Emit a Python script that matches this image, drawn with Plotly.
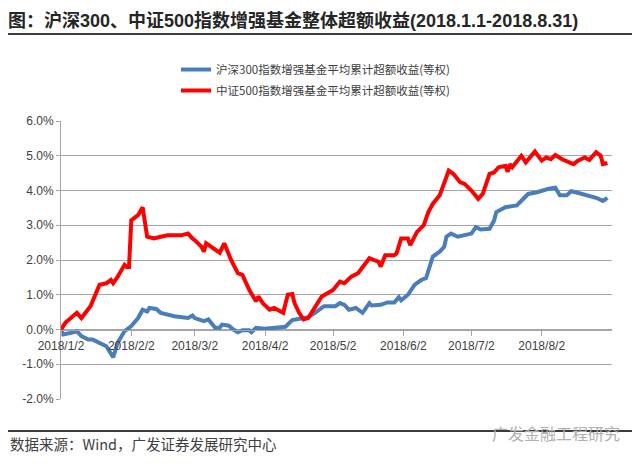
import plotly.graph_objects as go

# 沪深300指数增强基金平均累计超额收益(等权), %
hs300_dates = [
    "2018-01-02", "2018-01-03", "2018-01-06", "2018-01-09", "2018-01-11", "2018-01-14",
    "2018-01-16", "2018-01-19", "2018-01-22", "2018-01-25", "2018-01-27", "2018-01-30",
    "2018-02-02", "2018-02-05", "2018-02-07", "2018-02-09", "2018-02-10", "2018-02-13",
    "2018-02-15", "2018-02-21", "2018-02-27", "2018-03-01", "2018-03-02", "2018-03-06",
    "2018-03-08", "2018-03-11", "2018-03-13", "2018-03-14", "2018-03-17", "2018-03-19",
    "2018-03-21", "2018-03-23", "2018-03-26", "2018-03-27", "2018-03-29", "2018-04-02",
    "2018-04-07", "2018-04-11", "2018-04-14", "2018-04-17", "2018-04-21", "2018-04-24",
    "2018-04-28", "2018-05-03", "2018-05-05", "2018-05-07", "2018-05-09", "2018-05-12",
    "2018-05-15", "2018-05-18", "2018-05-19", "2018-05-23", "2018-05-26", "2018-05-29",
    "2018-05-31", "2018-06-01", "2018-06-04", "2018-06-07", "2018-06-10", "2018-06-12",
    "2018-06-15", "2018-06-18", "2018-06-20", "2018-06-21", "2018-06-23", "2018-06-26",
    "2018-06-28", "2018-07-02", "2018-07-04", "2018-07-06", "2018-07-10", "2018-07-12",
    "2018-07-13", "2018-07-17", "2018-07-22", "2018-07-24", "2018-07-27", "2018-07-31",
    "2018-08-05", "2018-08-08", "2018-08-10", "2018-08-13", "2018-08-15", "2018-08-17",
    "2018-08-22", "2018-08-26", "2018-08-29", "2018-08-31",
]
hs300_values = [
    0.00, -0.14, -0.10, -0.05, -0.19, -0.29,
    -0.29, -0.38, -0.48, -0.80, -0.38, -0.05,
    0.10, 0.33, 0.57, 0.52, 0.62, 0.59,
    0.48, 0.38, 0.33, 0.40, 0.33, 0.24,
    0.29, 0.05, 0.05, 0.14, 0.11, 0.00,
    -0.08, -0.02, -0.02, -0.08, 0.05, 0.02,
    0.05, 0.08, 0.27, 0.30, 0.35, 0.48,
    0.67, 0.67, 0.76, 0.71, 0.57, 0.62,
    0.48, 0.76, 0.69, 0.71, 0.78, 0.78,
    0.93, 0.84, 1.00, 1.29, 1.43, 1.48,
    2.10, 2.24, 2.38, 2.67, 2.76, 2.67,
    2.71, 2.76, 2.95, 2.88, 2.90, 3.14,
    3.38, 3.52, 3.57, 3.71, 3.90, 3.95,
    4.05, 4.08, 3.86, 3.86, 3.98, 3.95,
    3.86, 3.79, 3.70, 3.79,
]

# 中证500指数增强基金平均累计超额收益(等权), %
zz500_dates = [
    "2018-01-02", "2018-01-04", "2018-01-09", "2018-01-11", "2018-01-15", "2018-01-19",
    "2018-01-22", "2018-01-24", "2018-01-25", "2018-01-27", "2018-01-30", "2018-01-31",
    "2018-02-01", "2018-02-02", "2018-02-05", "2018-02-07", "2018-02-09", "2018-02-12",
    "2018-02-15", "2018-02-18", "2018-02-24", "2018-02-27", "2018-03-01", "2018-03-02",
    "2018-03-05", "2018-03-06", "2018-03-07", "2018-03-09", "2018-03-12", "2018-03-13",
    "2018-03-15", "2018-03-18", "2018-03-21", "2018-03-23", "2018-03-26", "2018-03-29",
    "2018-03-30", "2018-04-01", "2018-04-04", "2018-04-06", "2018-04-10", "2018-04-12",
    "2018-04-14", "2018-04-15", "2018-04-17", "2018-04-19", "2018-04-21", "2018-04-24",
    "2018-04-27", "2018-05-02", "2018-05-05", "2018-05-07", "2018-05-10", "2018-05-13",
    "2018-05-16", "2018-05-18", "2018-05-22", "2018-05-23", "2018-05-25", "2018-05-29",
    "2018-05-30", "2018-06-01", "2018-06-04", "2018-06-05", "2018-06-08", "2018-06-11",
    "2018-06-13", "2018-06-15", "2018-06-18", "2018-06-20", "2018-06-22", "2018-06-24",
    "2018-06-27", "2018-06-29", "2018-07-02", "2018-07-05", "2018-07-07", "2018-07-10",
    "2018-07-12", "2018-07-14", "2018-07-17", "2018-07-18", "2018-07-19", "2018-07-20",
    "2018-07-24", "2018-07-26", "2018-07-30", "2018-08-02", "2018-08-04", "2018-08-06",
    "2018-08-08", "2018-08-11", "2018-08-16", "2018-08-18", "2018-08-21", "2018-08-23",
    "2018-08-26", "2018-08-28", "2018-08-29", "2018-08-31",
]
zz500_values = [
    0.00, 0.20, 0.48, 0.33, 0.67, 1.29,
    1.33, 1.43, 1.33, 1.52, 1.86, 1.80,
    1.80, 3.14, 3.29, 3.52, 2.67, 2.62,
    2.67, 2.71, 2.71, 2.76, 2.62, 2.57,
    2.38, 2.24, 2.48, 2.38, 2.24, 2.21,
    2.48, 2.00, 1.62, 1.57, 1.14, 0.81,
    0.95, 0.76, 0.57, 0.62, 0.48, 1.00,
    1.02, 0.76, 0.48, 0.29, 0.33, 0.62,
    0.95, 1.14, 1.38, 1.33, 1.52, 1.62,
    1.86, 2.05, 1.95, 1.81, 2.14, 2.14,
    2.19, 2.62, 2.62, 2.43, 2.81, 3.00,
    3.38, 3.62, 3.86, 4.19, 4.57, 4.48,
    4.24, 4.19, 4.00, 3.76, 3.90, 4.48,
    4.52, 4.67, 4.71, 4.54, 4.76, 4.67,
    5.00, 4.81, 5.12, 4.86, 4.95, 4.90,
    5.02, 4.90, 4.76, 4.86, 4.95, 4.88,
    5.10, 5.00, 4.76, 4.79,
]

x_tick_vals = ["2018-01-02", "2018-02-02", "2018-03-02", "2018-04-02",
               "2018-05-02", "2018-06-02", "2018-07-02", "2018-08-02"]
x_tick_text = ["2018/1/2", "2018/2/2", "2018/3/2", "2018/4/2",
               "2018/5/2", "2018/6/2", "2018/7/2", "2018/8/2"]
y_tick_vals = [-2, -1, 0, 1, 2, 3, 4, 5, 6]
y_tick_text = [f"{v:.1f}%" for v in y_tick_vals]

W, H = 640, 463
OFF = 8  # 页面 body 默认 8px 边距，整体上移/左移补偿
ML, MT = 61 - OFF, 121 - OFF
MR, MB = W - (612 - OFF), H - (399 - OFF)
pw = W - ML - MR
ph = H - MT - MB


def py(ypx):
    """参考图中的像素 y -> paper 坐标"""
    return (H - MB - (ypx - OFF)) / ph


def px(xpx):
    return (xpx - OFF - ML) / pw


FONT = "Liberation Sans, Arial, Noto Sans CJK SC"
CJK = "Noto Sans CJK SC, Liberation Sans"

fig = go.Figure()
fig.add_trace(go.Scatter(
    x=hs300_dates, y=hs300_values, mode="lines",
    name="沪深300指数增强基金平均累计超额收益(等权)",
    line=dict(color="#4a7ebb", width=4), legendgroup="a",
))
fig.add_trace(go.Scatter(
    x=zz500_dates, y=zz500_values, mode="lines",
    name="中证500指数增强基金平均累计超额收益(等权)",
    line=dict(color="#ff0000", width=4), legendgroup="b",
))

# 标题下方与数据来源上方的分隔线
for ypx in (34, 431):
    fig.add_shape(type="line", xref="paper", yref="paper",
                  x0=-0.1, x1=1.05, y0=round(py(ypx), 3), y1=round(py(ypx), 3),
                  line=dict(color="#3c3c3c", width=2))

fig.update_layout(
    width=W, height=H,
    margin=dict(l=ML, r=MR, t=MT, b=MB, autoexpand=False),
    paper_bgcolor="white", plot_bgcolor="white",
    font=dict(family=FONT, size=12, color="#404040"),
    title=dict(
        text="<b>图：沪深300、中证500指数增强基金整体超额收益(2018.1.1-2018.8.31)</b>",
        x=0, xanchor="left", xref="container",
        y=1 - (21 - OFF) / H, yanchor="middle", yref="container",
        font=dict(family=FONT, size=18, color="#262626"),
    ),
    legend=dict(
        x=px(176), xanchor="left",
        y=py(55), yanchor="top",
        font=dict(family=CJK, size=11.5, color="#404040"),
        tracegroupgap=2, bgcolor="rgba(0,0,0,0)",
    ),
    xaxis=dict(
        type="date", range=["2018-01-02", "2018-09-02"],
        anchor="free", position=0.25,
        tickvals=x_tick_vals, ticktext=x_tick_text,
        showgrid=False, showline=True, linecolor="#a6a6a6", linewidth=1,
        ticks="outside", ticklen=5, tickcolor="#a6a6a6",
        tickfont=dict(size=12, color="#404040"),
        zeroline=False,
    ),
    yaxis=dict(
        range=[-2, 6], tickvals=y_tick_vals, ticktext=y_tick_text,
        showgrid=True, gridcolor="#a6a6a6", gridwidth=1,
        showline=True, linecolor="#a6a6a6", linewidth=1,
        ticks="outside", ticklen=4, tickcolor="#a6a6a6",
        tickfont=dict(size=12, color="#404040"),
        zeroline=False,
    ),
    showlegend=True,
)

fig.add_annotation(
    text="数据来源：Wind，广发证券发展研究中心",
    xref="paper", yref="paper", x=px(8), y=py(443),
    xanchor="left", yanchor="middle", showarrow=False,
    font=dict(family=CJK, size=14.5, color="#404040"),
)
fig.add_annotation(
    text="广发金融工程研究",
    xref="paper", yref="paper", x=px(490), y=py(433),
    xanchor="left", yanchor="middle", showarrow=False,
    font=dict(family=CJK, size=16, color="#b0b0b0"),
)

fig.write_html("out.html")
